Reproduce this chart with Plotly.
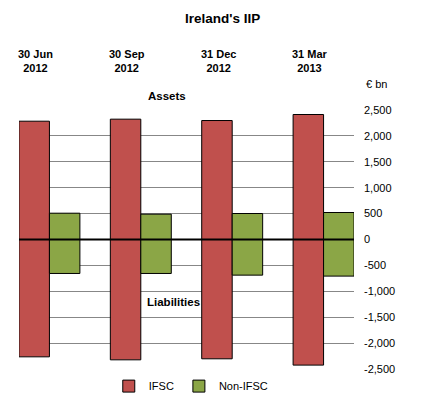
import plotly.graph_objects as go

# quarter ends (categories) and the labels printed above them
quarters = ["30 Jun 2012", "30 Sep 2012", "31 Dec 2012", "31 Mar 2013"]
quarter_labels = ["30 Jun<br>2012", "30 Sep<br>2012", "31 Dec<br>2012", "31 Mar<br>2013"]

# € bn
ifsc_assets = [2284, 2323, 2297, 2413]
ifsc_liabilities = [-2265, -2323, -2303, -2425]
non_ifsc_assets = [508, 489, 502, 521]
non_ifsc_liabilities = [-656, -656, -688, -707]

# y axis ticks
tick_vals = [2500, 2000, 1500, 1000, 500, 0, -500, -1000, -1500, -2000, -2500]
tick_text = ["2,500", "2,000", "1,500", "1,000", "500", "0", "-500",
             "-1,000", "-1,500", "-2,000", "-2,500"]

red = "#C0504D"
green = "#8BA646"
font = "Liberation Sans, Arial, sans-serif"

fig = go.Figure()
fig.add_trace(go.Bar(x=quarters, y=ifsc_assets, name="IFSC", offsetgroup="ifsc",
                     legendgroup="ifsc", marker=dict(color=red, line=dict(color="black", width=1))))
fig.add_trace(go.Bar(x=quarters, y=ifsc_liabilities, name="IFSC", offsetgroup="ifsc",
                     legendgroup="ifsc", showlegend=False,
                     marker=dict(color=red, line=dict(color="black", width=1))))
fig.add_trace(go.Bar(x=quarters, y=non_ifsc_assets, name="Non-IFSC", offsetgroup="non",
                     legendgroup="non", marker=dict(color=green, line=dict(color="black", width=1))))
fig.add_trace(go.Bar(x=quarters, y=non_ifsc_liabilities, name="Non-IFSC", offsetgroup="non",
                     legendgroup="non", showlegend=False,
                     marker=dict(color=green, line=dict(color="black", width=1))))

# zero line drawn over the bars
fig.add_shape(type="line", xref="paper", yref="y", x0=0, x1=1, y0=0, y1=0,
              line=dict(color="black", width=2), layer="above")

for q, lab in zip(quarters, quarter_labels):
    fig.add_annotation(x=q, xref="x", y=1.189, yref="paper", yanchor="middle",
                       text="<b>%s</b>" % lab, showarrow=False, xshift=-14,
                       font=dict(size=11, color="black"))

fig.add_annotation(x=1.105, y=1.100, xref="paper", yref="paper", yanchor="middle",
                   text="€ bn", showarrow=False, font=dict(size=11, color="black"))
fig.add_annotation(x=0.442, y=1.054, xref="paper", yref="paper", yanchor="middle",
                   text="<b>Assets</b>", showarrow=False, font=dict(size=11.5, color="black"))
fig.add_annotation(x=0.46, y=0.259, xref="paper", yref="paper", yanchor="middle",
                   text="<b>Liabilities</b>", showarrow=False,
                   font=dict(size=11.5, color="black"))

# page body has an 8px margin, so the figure is 8px smaller than the window
fig.update_layout(
    width=437, height=399,
    margin=dict(l=11, r=91, t=102, b=38, autoexpand=False),
    paper_bgcolor="white", plot_bgcolor="white",
    font=dict(family=font, size=11, color="black"),
    title=dict(text="<b>Ireland's IIP</b>", x=0.491, xanchor="center", y=0.975,
               yanchor="middle", font=dict(size=13.5, color="black")),
    barmode="group", bargap=0.333, bargroupgap=0,
    showlegend=True,
    legend=dict(orientation="h", x=0.268, xanchor="left", y=-0.066, yanchor="middle",
                font=dict(size=11), bgcolor="rgba(0,0,0,0)"),
    xaxis=dict(range=[-0.333, 3.333], showticklabels=False, showgrid=False,
               zeroline=False, showline=False, fixedrange=True),
    yaxis=dict(range=[-2500, 2500], side="right", tickmode="array", tickvals=tick_vals,
               ticktext=tick_text, showgrid=True, gridcolor="#878787", gridwidth=1,
               zeroline=False, showline=False, ticks="", ticklabelstandoff=9,
               tickfont=dict(size=11, color="black")),
)

fig.write_html("out.html")
